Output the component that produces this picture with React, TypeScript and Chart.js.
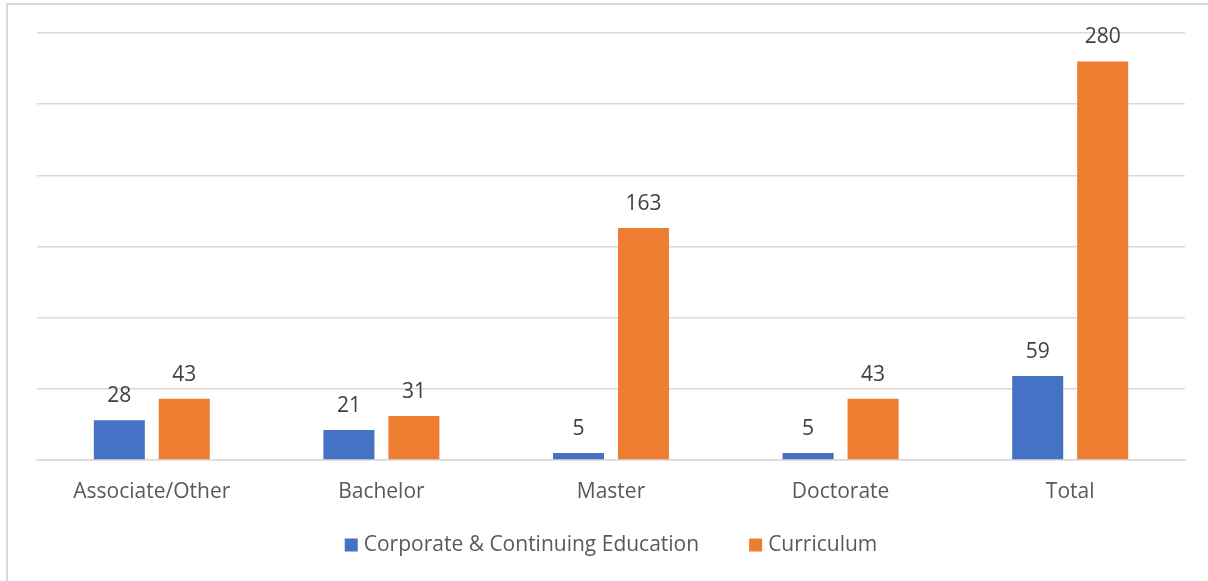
import React, { useEffect, useRef } from "react";
import { Chart, registerables } from "chart.js";

Chart.register(...registerables);

const categories = ["Associate/Other", "Bachelor", "Master", "Doctorate", "Total"];
const corporateValues = [28, 21, 5, 5, 59];
const curriculumValues = [43, 31, 163, 43, 280];
const seriesNames = ["Corporate & Continuing Education", "Curriculum"];
const seriesColors = ["#4472C4", "#ED7D31"];

const FONT = "'Open Sans', Lato, sans-serif";
const FONT_SIZE = 21;

const valueLabels = {
  id: "valueLabels",
  afterDatasetsDraw(chart: any) {
    const ctx = chart.ctx;
    ctx.save();
    ctx.font = `${FONT_SIZE}px ${FONT}`;
    ctx.fillStyle = "#404040";
    ctx.textAlign = "center";
    ctx.textBaseline = "alphabetic";
    chart.data.datasets.forEach((ds: any, i: number) => {
      const meta = chart.getDatasetMeta(i);
      meta.data.forEach((bar: any, j: number) => {
        ctx.fillText(String(ds.data[j]), bar.x, bar.y - 18);
      });
    });
    ctx.restore();
  },
};

const customLegend = {
  id: "customLegend",
  afterDraw(chart: any) {
    const ctx = chart.ctx;
    ctx.save();
    ctx.font = `${FONT_SIZE}px ${FONT}`;
    ctx.textBaseline = "middle";
    ctx.textAlign = "left";
    const box = 13;
    const gap = 6;
    const itemGap = 50;
    const items = chart.data.datasets.map((ds: any) => ({
      text: ds.label,
      color: ds.backgroundColor,
      w: box + gap + ctx.measureText(ds.label).width,
    }));
    const total = items.reduce((a: number, it: any) => a + it.w, 0) + itemGap * (items.length - 1);
    const area = chart.chartArea;
    let x = (area.left + area.right) / 2 - total / 2;
    const cy = 545;
    items.forEach((it: any) => {
      ctx.fillStyle = it.color;
      ctx.fillRect(x, cy - box / 2, box, box);
      ctx.fillStyle = "#595959";
      ctx.fillText(it.text, x + box + gap, cy);
      x += it.w + itemGap;
    });
    ctx.restore();
  },
};

export default function App() {
  const ref = useRef<HTMLCanvasElement | null>(null);
  useEffect(() => {
    document.body.style.margin = "0";
    const chart = new Chart(ref.current!, {
      type: "bar",
      data: {
        labels: categories,
        datasets: [
          {
            label: seriesNames[0],
            data: corporateValues,
            backgroundColor: seriesColors[0],
            categoryPercentage: 0.566,
            barPercentage: 0.785,
          },
          {
            label: seriesNames[1],
            data: curriculumValues,
            backgroundColor: seriesColors[1],
            categoryPercentage: 0.566,
            barPercentage: 0.785,
          },
        ],
      },
      options: {
        animation: false,
        responsive: false,
        maintainAspectRatio: false,
        layout: { padding: { left: 37, right: 23, top: 33, bottom: 0 } },
        plugins: {
          tooltip: { enabled: false },
          title: { display: false },
          legend: { display: false },
        },
        scales: {
          x: {
            afterFit: (s: any) => { s.height = 121; },
            grid: { display: false, drawTicks: false },
            border: { display: true, color: "#d9d9d9", width: 1.5 },
            ticks: { color: "#595959", font: { family: FONT, size: FONT_SIZE }, padding: 19 },
          },
          y: {
            min: 0,
            max: 300,
            afterFit: (s: any) => { s.width = 0; },
            ticks: { display: false, stepSize: 50 },
            grid: { color: "#d9d9d9", lineWidth: 1.5, drawTicks: false },
            border: { display: false },
          },
        },
      },
      plugins: [valueLabels, customLegend],
    });
    return () => chart.destroy();
  }, []);
  return (
    <div style={{ position: "relative", width: 1208, height: 581, overflow: "hidden", background: "#fff" }}>
      <div
        style={{
          position: "absolute",
          left: 6,
          top: 3,
          width: 1300,
          height: 700,
          border: "2px solid #d9d9d9",
          boxSizing: "border-box",
        }}
      />
      <canvas ref={ref} width={1208} height={581} style={{ position: "absolute", left: 0, top: 0 }} />
    </div>
  );
}
